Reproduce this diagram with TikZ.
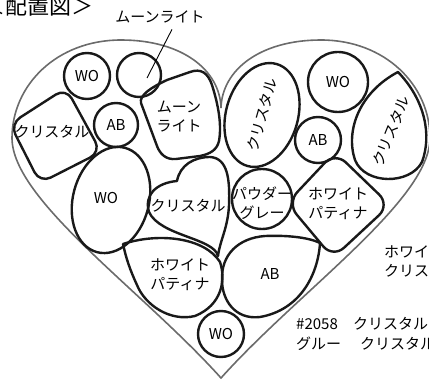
\documentclass[tikz,border=0pt]{standalone}
\usepackage{fontspec}
\setmainfont{Noto Sans CJK JP}
\usepackage{tikz}
\usetikzlibrary{shapes.geometric}

\begin{document}
\begin{tikzpicture}[
    x=1pt, y=-1pt,
    every node/.style={font=\fontsize{15pt}{19pt}\selectfont},
    blob/.style={draw=black!90, line width=2.4pt, line join=round},
    ring/.style={blob, circle, inner sep=0pt},
    tag/.style={inner sep=0pt, align=center},
    outline/.style={draw=black!58, line width=1.6pt},
]
\useasboundingbox (0,0) rectangle (429,382);

% --- Heart outline ---
\draw[outline] (221,108) .. controls (222,70) and (260,40) .. (321,40)
    .. controls (385,40) and (430,85) .. (430,138)
    .. controls (430,200) and (300,290) .. (221,378)
    .. controls (142,290) and (12,200) .. (12,138)
    .. controls (12,85) and (57,40) .. (121,40)
    .. controls (182,40) and (220,70) .. (221,108) -- cycle;

% --- Title and callout ---
\node[tag, anchor=west, font=\fontsize{22pt}{24pt}\selectfont] (title) at (-17,7) {＜配置図＞};
\node[tag] (lblMoon) at (160,17) {ムーンライト};
\coordinate (moonEnd) at (147,78);

% --- Round stones ---
\node[ring, minimum size=44pt] (moonEmpty) at (139,75) {};
\node[ring, minimum size=46pt] (woTL) at (87,76) {WO};
\node[ring, minimum size=44pt] (abL) at (116,125) {AB};
\node[ring, minimum size=60pt] (woTR) at (338,82) {WO};
\node[ring, minimum size=46pt] (abR) at (318,140) {AB};
\node[ring, minimum size=60pt] (pwdGray) at (262,199) {};
\node[tag] (pwdTxt) at (262,203) {パウダー\\グレー};
\node[ring, minimum size=46pt] (woB) at (221,334) {WO};

\draw[line width=0.9pt] ([xshift=12pt, yshift=-6pt]lblMoon.south) -- (moonEnd);

% --- Rounded squares ---
\draw[blob, rounded corners=12pt] (10,124) -- (66,88) -- (101,152) -- (40,183) -- cycle;
\node[tag] (crysLtxt) at (52,132) {クリスタル};

\draw[blob] (141,103) .. controls (139,95) and (152,87) .. (167,80) -- (190,72)
    .. controls (201,68) and (208,73) .. (212,85)
    .. controls (218,104) and (222,124) .. (219,141)
    .. controls (217,150) and (210,154) .. (200,156) -- (176,159)
    .. controls (166,160) and (160,154) .. (157,146) -- cycle;
\node[tag] (moonTxt) at (179,117) {ムーン\\ライト};

\draw[blob, rounded corners=15pt] (287,203) -- (335,152) -- (390,205) -- (333,258) -- cycle;
\node[tag] (wpRtxt) at (338,204) {ホワイト\\パティナ};

% --- Ovals ---
\node[blob, ellipse, inner sep=0pt, minimum width=106pt, minimum height=72pt,
      rotate=74] (crysR) at (262,115) {クリスタル};

\draw[blob, rotate around={75:(111,200)}] (111,200) ellipse [x radius=54pt, y radius=38pt];
\node[tag] (woLtxt) at (106,198) {WO};

% --- Heart stone ---
\draw[blob] (218,256) .. controls (214,238) and (160,236) .. (149,212)
    .. controls (144,195) and (156,183) .. (177,181)
    .. controls (180,165) and (194,157) .. (210,157)
    .. controls (228,158) and (230,180) .. (229,205)
    .. controls (228,228) and (220,240) .. (218,256) -- cycle;
\node[tag] (crysCtxt) at (188,206) {クリスタル};

% --- Drops ---
\draw[blob] (398,72) .. controls (360,92) and (345,130) .. (355,160)
    .. controls (365,185) and (410,185) .. (422,162)
    .. controls (432,135) and (425,100) .. (398,72) -- cycle;
\node[tag, rotate=68] (crysR2txt) at (391,131) {クリスタル};

\draw[blob] (123,244) .. controls (160,232) and (205,238) .. (220,262)
    .. controls (226,280) and (222,305) .. (195,316)
    .. controls (170,322) and (145,305) .. (137,285)
    .. controls (130,270) and (126,258) .. (123,244) -- cycle;
\node[tag] (wpLtxt) at (180,275) {ホワイト\\パティナ};

\draw[blob] (320,243) .. controls (318,275) and (300,310) .. (260,317)
    .. controls (235,320) and (222,300) .. (222,280)
    .. controls (221,255) and (238,238) .. (265,236)
    .. controls (290,235) and (310,238) .. (320,243) -- cycle;
\node[tag] (abBtxt) at (270,274) {AB};

% --- Side notes ---
\node[tag, anchor=west, align=left] (sideNote) at (384,261) {ホワイト\\クリスタル};
\node[tag, anchor=west] (code) at (296,324) {\#2058};
\node[tag, anchor=west] (codeName) at (353,324) {クリスタル};
\node[tag, anchor=west] (glue) at (296,344) {グルー};
\node[tag, anchor=west] (glueName) at (360,344) {クリスタル};

\end{tikzpicture}
\end{document}
